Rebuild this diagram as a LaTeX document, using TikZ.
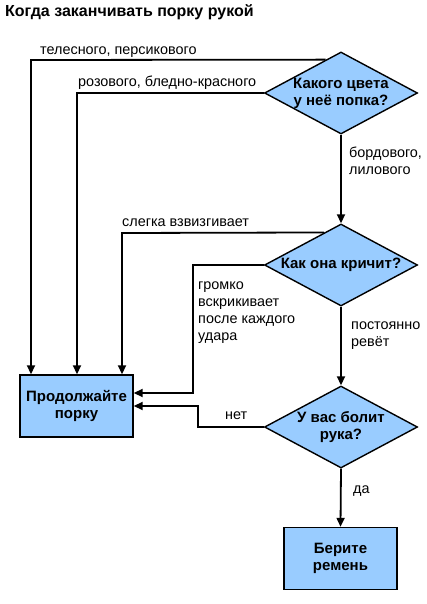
\documentclass[tikz,border=0pt]{standalone}
\usepackage{fontspec}
\setmainfont{Liberation Sans}
\usetikzlibrary{shapes.geometric,arrows.meta,calc}
\definecolor{boxblue}{RGB}{153,204,255}
\begin{document}
\begin{tikzpicture}[x=1pt,y=-1pt,
  lbl/.style={anchor=base west,inner sep=0pt,font=\fontsize{14.4}{16.7}\selectfont,align=left},
  dec/.style={diamond,draw,line width=1.4pt,fill=boxblue,aspect=1.87,minimum width=153pt,minimum height=82pt,inner sep=0pt,align=center,font=\bfseries\fontsize{15}{17}\selectfont},
  act/.style={rectangle,draw,line width=1.4pt,fill=boxblue,minimum width=113pt,minimum height=62pt,inner sep=0pt,align=center,font=\bfseries\fontsize{15}{17}\selectfont},
  conn/.style={line width=1.8pt},
  arr/.style={conn,-{Triangle[length=9pt,width=8pt]}}]
\useasboundingbox (0,0) rectangle (427,604);
\node[anchor=base west,inner sep=0pt,font=\bfseries\fontsize{16}{18}\selectfont] (title) at (5,17) {Когда заканчивать порку рукой};

\node[dec] (d1) at (341,93) {Какого цвета\\у неё попка?};
\node[dec] (d2) at (341,265) {Как она кричит?};
\node[dec] (d3) at (341,427) {У вас болит\\рука?};
\node[act] (b1) at (76.5,406) {Продолжайте\\порку};
\node[act] (b2) at (340.5,558.5) {Берите\\ремень};

\coordinate (e1) at ($(d1.west)!0.8!(d1.north)$);
\coordinate (c1) at (31,60);
\coordinate (c2) at (77,93);
\coordinate (e2) at ($(d2.west)!0.78!(d2.north)$);
\coordinate (c3) at (122,233);
\coordinate (c4) at (193,265);
\coordinate (c5) at (193,393);
\coordinate (c6) at (198,427);
\coordinate (c7) at (198,406);

\draw[arr] (e1) -- (c1) -- (c1 |- b1.north);
\draw[arr] (d1.west) -- (c2) -- (c2 |- b1.north);
\draw[arr] (e2) -- (c3) -- (c3 |- b1.north);
\draw[arr] (d2.west) -- (c4) -- (c5) -- (c5 -| b1.east);
\draw[arr] (d3.west) -- (c6) -- (c7) -- (c7 -| b1.east);
\draw[arr] (d1.south) -- (d2.north);
\draw[arr] (d2.south) -- (d3.north);
\draw[arr] (d3.south) -- (b2.north);

% multi-line labels: anchor base = baseline of the last line
\node[lbl] (l1) at (40,55) {телесного, персикового};
\node[lbl] (l2) at (78,87) {розового, бледно-красного};
\node[lbl] (l3) at (349,174) {бордового,\\лилового};
\node[lbl] (l4) at (122,226) {слегка взвизгивает};
\node[lbl] (l5) at (198,340) {громко\\вскрикивает\\после каждого\\удара};
\node[lbl] (l6) at (351,346) {постоянно\\ревёт};
\node[lbl] (l7) at (225,419) {нет};
\node[lbl] (l8) at (353,493) {да};
\end{tikzpicture}
\end{document}
